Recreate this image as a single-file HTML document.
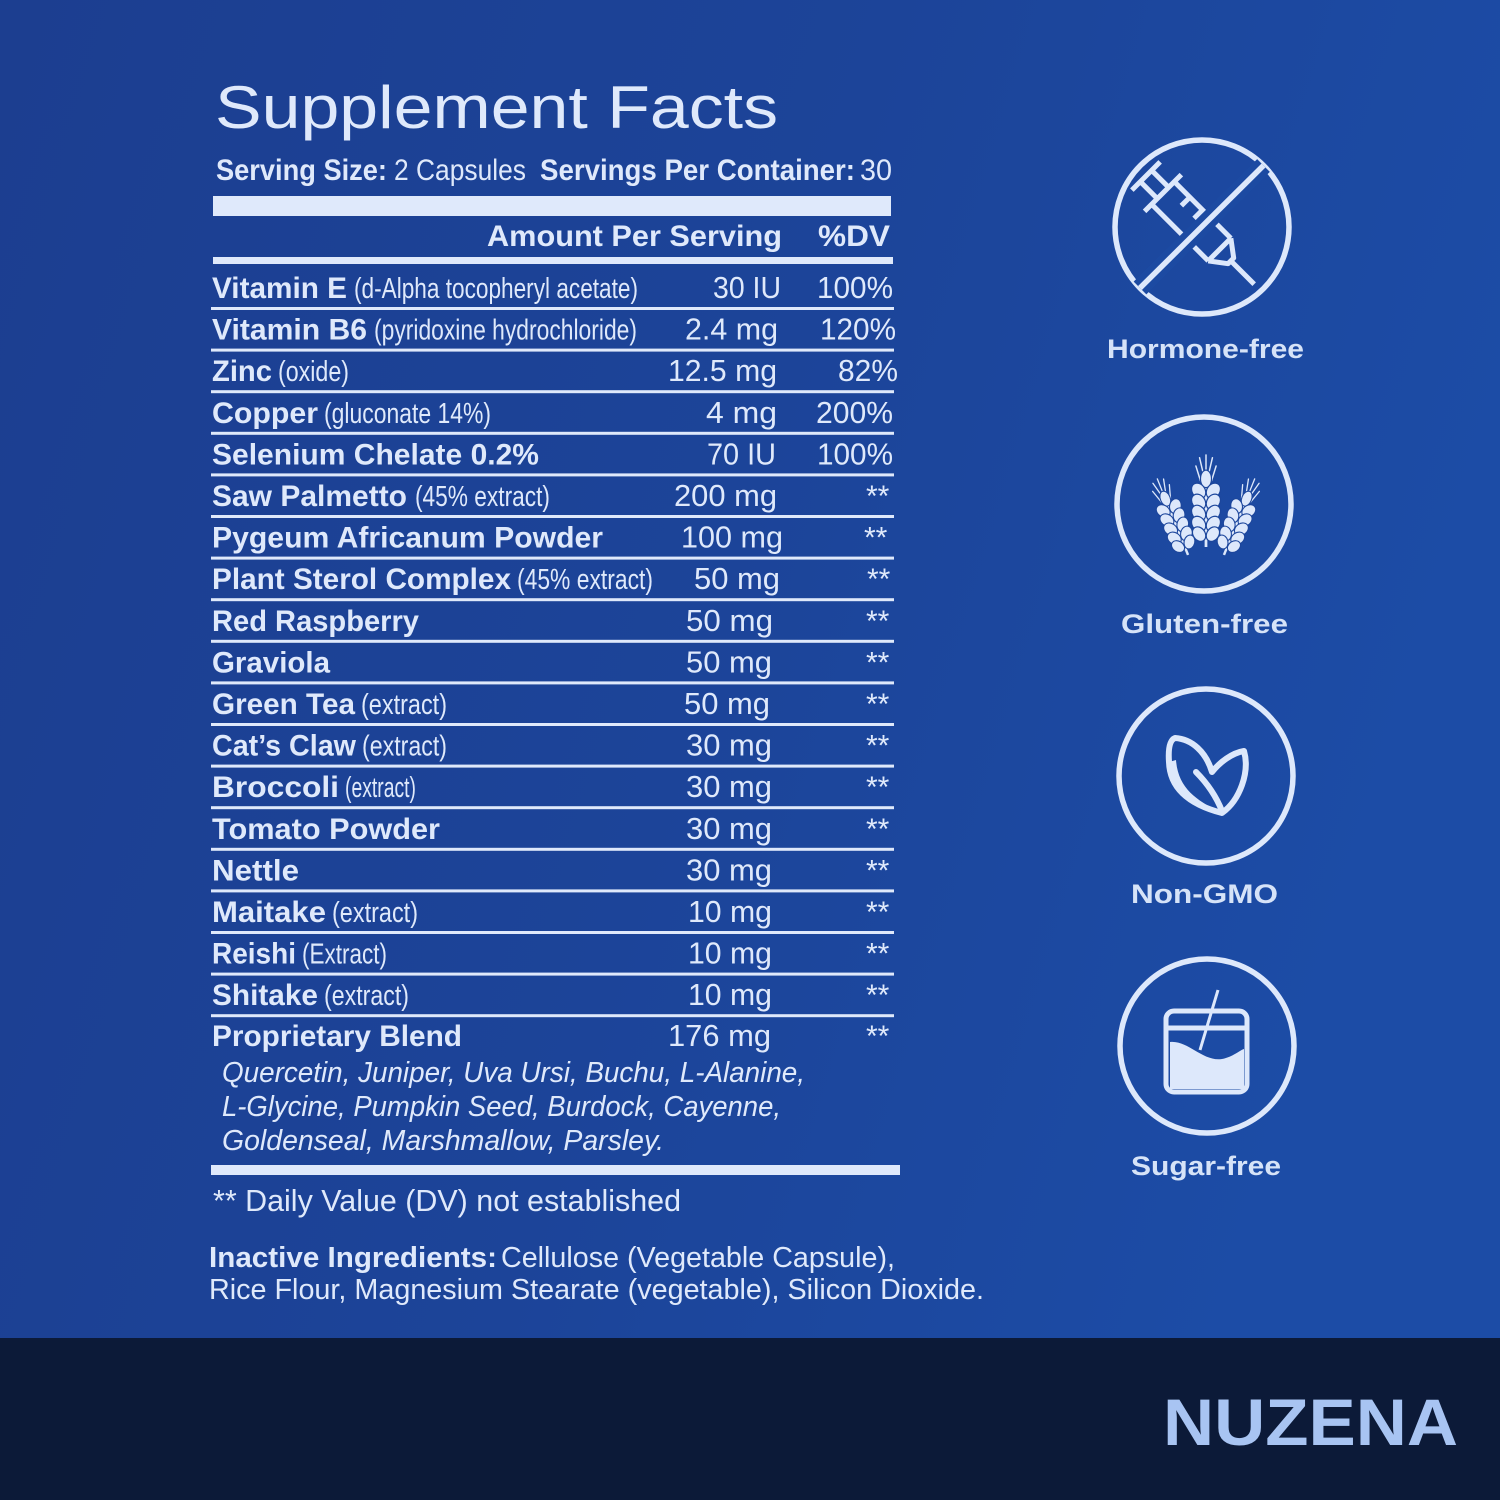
<!DOCTYPE html>
<html>
<head>
<meta charset="utf-8">
<style>
  html,body{margin:0;padding:0;background:#1b4294;}
  svg{display:block;}
</style>
</head>
<body>
<svg width="1500" height="1500" viewBox="0 0 1500 1500" xmlns="http://www.w3.org/2000/svg">
  <defs>
    <linearGradient id="bg" x1="0" y1="0" x2="1" y2="0.3">
      <stop offset="0" stop-color="#1c3e90"/>
      <stop offset="0.55" stop-color="#1c4499"/>
      <stop offset="1" stop-color="#1c4ca6"/>
    </linearGradient>
    <g id="ear">
      <line x1="0" y1="14" x2="0" y2="88" stroke="#dde8fb" stroke-width="3"/>
      <g stroke="#dde8fb" stroke-width="1.6" fill="none" stroke-linecap="round">
        <line x1="0" y1="6" x2="0" y2="-12"/>
        <line x1="-3" y1="8" x2="-7" y2="-9"/>
        <line x1="3" y1="8" x2="7" y2="-9"/>
        <line x1="-6" y1="16" x2="-11" y2="0"/>
        <line x1="6" y1="16" x2="11" y2="0"/>
      </g>
      <g fill="#dde8fb" stroke="#1c469c" stroke-width="1.3">
        <ellipse cx="0" cy="14" rx="6" ry="9.5"/>
        <ellipse cx="-8" cy="27" rx="7" ry="9" transform="rotate(-35 -8 27)"/>
        <ellipse cx="8" cy="27" rx="7" ry="9" transform="rotate(35 8 27)"/>
        <ellipse cx="-8" cy="39" rx="7" ry="9" transform="rotate(-35 -8 39)"/>
        <ellipse cx="8" cy="39" rx="7" ry="9" transform="rotate(35 8 39)"/>
        <ellipse cx="-8" cy="51" rx="7" ry="9" transform="rotate(-35 -8 51)"/>
        <ellipse cx="8" cy="51" rx="7" ry="9" transform="rotate(35 8 51)"/>
        <ellipse cx="-8" cy="63" rx="7" ry="9" transform="rotate(-35 -8 63)"/>
        <ellipse cx="8" cy="63" rx="7" ry="9" transform="rotate(35 8 63)"/>
        <ellipse cx="-7.5" cy="74" rx="6.5" ry="8.5" transform="rotate(-35 -7.5 74)"/>
        <ellipse cx="7.5" cy="74" rx="6.5" ry="8.5" transform="rotate(35 7.5 74)"/>
      </g>
    </g>
  </defs>

  <!-- background -->
  <rect x="0" y="0" width="1500" height="1500" fill="url(#bg)"/>
  <rect x="0" y="1338" width="1500" height="162" fill="#0c1a38"/>

  <g fill="#dfe9fb" font-family="'Liberation Sans', sans-serif">
    <!-- Title -->
    <text x="215" y="128" font-size="60" textLength="563" lengthAdjust="spacingAndGlyphs">Supplement Facts</text>

    <!-- serving line -->
    <text x="216" y="180" font-size="30" font-weight="bold" textLength="171" lengthAdjust="spacingAndGlyphs">Serving Size:</text>
    <text x="394" y="180" font-size="30" textLength="132" lengthAdjust="spacingAndGlyphs">2 Capsules</text>
    <text x="540" y="180" font-size="30" font-weight="bold" textLength="315" lengthAdjust="spacingAndGlyphs">Servings Per Container:</text>
    <text x="860" y="180" font-size="30" textLength="32" lengthAdjust="spacingAndGlyphs">30</text>

    <!-- bars -->
    <rect x="213" y="196" width="678" height="20"/>
    <text x="487" y="246" font-size="30" font-weight="bold" textLength="295" lengthAdjust="spacingAndGlyphs">Amount Per Serving</text>
    <text x="818" y="246" font-size="30" font-weight="bold" textLength="72" lengthAdjust="spacingAndGlyphs">%DV</text>
    <rect x="213" y="257" width="680" height="7"/>

    <!-- row separator lines -->
    <g>
      <rect x="211" y="307" width="683" height="3"/>
      <rect x="211" y="348.6" width="683" height="3"/>
      <rect x="211" y="390.2" width="683" height="3"/>
      <rect x="211" y="431.8" width="683" height="3"/>
      <rect x="211" y="473.4" width="683" height="3"/>
      <rect x="211" y="515" width="683" height="3"/>
      <rect x="211" y="556.6" width="683" height="3"/>
      <rect x="211" y="598.2" width="683" height="3"/>
      <rect x="211" y="639.8" width="683" height="3"/>
      <rect x="211" y="681.4" width="683" height="3"/>
      <rect x="211" y="723" width="683" height="3"/>
      <rect x="211" y="764.6" width="683" height="3"/>
      <rect x="211" y="806.2" width="683" height="3"/>
      <rect x="211" y="847.8" width="683" height="3"/>
      <rect x="211" y="889.4" width="683" height="3"/>
      <rect x="211" y="931" width="683" height="3"/>
      <rect x="211" y="972.6" width="683" height="3"/>
      <rect x="211" y="1014.2" width="683" height="3"/>
    </g>

    <!-- rows: names -->
    <g font-size="30" font-weight="bold">
      <text x="212" y="298" textLength="135" lengthAdjust="spacingAndGlyphs">Vitamin E</text>
      <text x="212" y="339.6" textLength="155" lengthAdjust="spacingAndGlyphs">Vitamin B6</text>
      <text x="212" y="381.2" textLength="60" lengthAdjust="spacingAndGlyphs">Zinc</text>
      <text x="212" y="422.8" textLength="106" lengthAdjust="spacingAndGlyphs">Copper</text>
      <text x="212" y="464.4" textLength="327" lengthAdjust="spacingAndGlyphs">Selenium Chelate 0.2%</text>
      <text x="212" y="506" textLength="195" lengthAdjust="spacingAndGlyphs">Saw Palmetto</text>
      <text x="212" y="547.6" textLength="391" lengthAdjust="spacingAndGlyphs">Pygeum Africanum Powder</text>
      <text x="212" y="589.2" textLength="299" lengthAdjust="spacingAndGlyphs">Plant Sterol Complex</text>
      <text x="212" y="630.8" textLength="207" lengthAdjust="spacingAndGlyphs">Red Raspberry</text>
      <text x="212" y="672.4" textLength="118" lengthAdjust="spacingAndGlyphs">Graviola</text>
      <text x="212" y="714" textLength="143" lengthAdjust="spacingAndGlyphs">Green Tea</text>
      <text x="212" y="755.6" textLength="144" lengthAdjust="spacingAndGlyphs">Cat’s Claw</text>
      <text x="212" y="797.2" textLength="127" lengthAdjust="spacingAndGlyphs">Broccoli</text>
      <text x="212" y="838.8" textLength="228" lengthAdjust="spacingAndGlyphs">Tomato Powder</text>
      <text x="212" y="880.4" textLength="87" lengthAdjust="spacingAndGlyphs">Nettle</text>
      <text x="212" y="922" textLength="114" lengthAdjust="spacingAndGlyphs">Maitake</text>
      <text x="212" y="963.6" textLength="84" lengthAdjust="spacingAndGlyphs">Reishi</text>
      <text x="212" y="1005.2" textLength="106" lengthAdjust="spacingAndGlyphs">Shitake</text>
      <text x="212" y="1046" textLength="250" lengthAdjust="spacingAndGlyphs">Proprietary Blend</text>
    </g>

    <!-- parentheticals -->
    <g font-size="29">
      <text x="354" y="298" textLength="284" lengthAdjust="spacingAndGlyphs">(d-Alpha tocopheryl acetate)</text>
      <text x="374" y="339.6" textLength="263" lengthAdjust="spacingAndGlyphs">(pyridoxine hydrochloride)</text>
      <text x="278" y="381.2" textLength="71" lengthAdjust="spacingAndGlyphs">(oxide)</text>
      <text x="324" y="422.8" textLength="167" lengthAdjust="spacingAndGlyphs">(gluconate 14%)</text>
      <text x="415" y="506" textLength="135" lengthAdjust="spacingAndGlyphs">(45% extract)</text>
      <text x="517" y="589.2" textLength="136" lengthAdjust="spacingAndGlyphs">(45% extract)</text>
      <text x="361" y="714" textLength="86" lengthAdjust="spacingAndGlyphs">(extract)</text>
      <text x="362" y="755.6" textLength="85" lengthAdjust="spacingAndGlyphs">(extract)</text>
      <text x="345" y="797.2" textLength="71" lengthAdjust="spacingAndGlyphs">(extract)</text>
      <text x="332" y="922" textLength="86" lengthAdjust="spacingAndGlyphs">(extract)</text>
      <text x="302" y="963.6" textLength="85" lengthAdjust="spacingAndGlyphs">(Extract)</text>
      <text x="324" y="1005.2" textLength="85" lengthAdjust="spacingAndGlyphs">(extract)</text>
    </g>

    <!-- amounts -->
    <g font-size="31">
      <text x="713" y="298" textLength="68" lengthAdjust="spacingAndGlyphs">30 IU</text>
      <text x="685" y="339.6" textLength="93" lengthAdjust="spacingAndGlyphs">2.4 mg</text>
      <text x="668" y="381.2" textLength="109" lengthAdjust="spacingAndGlyphs">12.5 mg</text>
      <text x="706" y="422.8" textLength="71" lengthAdjust="spacingAndGlyphs">4 mg</text>
      <text x="707" y="464.4" textLength="69" lengthAdjust="spacingAndGlyphs">70 IU</text>
      <text x="674" y="506" textLength="103" lengthAdjust="spacingAndGlyphs">200 mg</text>
      <text x="681" y="547.6" textLength="102" lengthAdjust="spacingAndGlyphs">100 mg</text>
      <text x="694" y="589.2" textLength="86" lengthAdjust="spacingAndGlyphs">50 mg</text>
      <text x="686" y="630.8" textLength="87" lengthAdjust="spacingAndGlyphs">50 mg</text>
      <text x="686" y="672.4" textLength="86" lengthAdjust="spacingAndGlyphs">50 mg</text>
      <text x="684" y="714" textLength="86" lengthAdjust="spacingAndGlyphs">50 mg</text>
      <text x="686" y="755.6" textLength="86" lengthAdjust="spacingAndGlyphs">30 mg</text>
      <text x="686" y="797.2" textLength="86" lengthAdjust="spacingAndGlyphs">30 mg</text>
      <text x="686" y="838.8" textLength="86" lengthAdjust="spacingAndGlyphs">30 mg</text>
      <text x="686" y="880.4" textLength="86" lengthAdjust="spacingAndGlyphs">30 mg</text>
      <text x="688" y="922" textLength="84" lengthAdjust="spacingAndGlyphs">10 mg</text>
      <text x="688" y="963.6" textLength="84" lengthAdjust="spacingAndGlyphs">10 mg</text>
      <text x="688" y="1005.2" textLength="84" lengthAdjust="spacingAndGlyphs">10 mg</text>
      <text x="668" y="1046" textLength="103" lengthAdjust="spacingAndGlyphs">176 mg</text>
    </g>

    <!-- %DV -->
    <g font-size="31">
      <text x="817" y="298" textLength="76" lengthAdjust="spacingAndGlyphs">100%</text>
      <text x="820" y="339.6" textLength="76" lengthAdjust="spacingAndGlyphs">120%</text>
      <text x="838" y="381.2" textLength="60" lengthAdjust="spacingAndGlyphs">82%</text>
      <text x="816" y="422.8" textLength="77" lengthAdjust="spacingAndGlyphs">200%</text>
      <text x="817" y="464.4" textLength="76" lengthAdjust="spacingAndGlyphs">100%</text>
    </g>
    <g font-size="30">
      <text x="866" y="506">**</text>
      <text x="864" y="547.6">**</text>
      <text x="867" y="589.2">**</text>
      <text x="866" y="630.8">**</text>
      <text x="866" y="672.4">**</text>
      <text x="866" y="714">**</text>
      <text x="866" y="755.6">**</text>
      <text x="866" y="797.2">**</text>
      <text x="866" y="838.8">**</text>
      <text x="866" y="880.4">**</text>
      <text x="866" y="922">**</text>
      <text x="866" y="963.6">**</text>
      <text x="866" y="1005.2">**</text>
      <text x="866" y="1046">**</text>
    </g>

    <!-- blend ingredients -->
    <g font-size="29" font-style="italic">
      <text x="222" y="1082" textLength="583" lengthAdjust="spacingAndGlyphs">Quercetin, Juniper, Uva Ursi, Buchu, L-Alanine,</text>
      <text x="222" y="1116" textLength="559" lengthAdjust="spacingAndGlyphs">L-Glycine, Pumpkin Seed, Burdock, Cayenne,</text>
      <text x="222" y="1150" textLength="442" lengthAdjust="spacingAndGlyphs">Goldenseal, Marshmallow, Parsley.</text>
    </g>

    <rect x="211" y="1165" width="689" height="10"/>

    <text x="213" y="1211" font-size="31" textLength="468" lengthAdjust="spacingAndGlyphs">** Daily Value (DV) not established</text>

    <text x="209" y="1267" font-size="29" font-weight="bold" textLength="288" lengthAdjust="spacingAndGlyphs">Inactive Ingredients:</text>
    <text x="501" y="1267" font-size="29" textLength="394" lengthAdjust="spacingAndGlyphs">Cellulose (Vegetable Capsule),</text>
    <text x="209" y="1299" font-size="29" textLength="775" lengthAdjust="spacingAndGlyphs">Rice Flour, Magnesium Stearate (vegetable), Silicon Dioxide.</text>
  </g>

  <!-- ICONS -->
  <g fill="none" stroke="#dde8fb" stroke-width="5.5">
    <circle cx="1202" cy="227" r="87"/>
    <circle cx="1204" cy="504" r="87"/>
    <circle cx="1206" cy="776" r="87"/>
    <circle cx="1207" cy="1046" r="87"/>
  </g>

  <!-- syringe -->
  <g transform="translate(1146,176) rotate(45)" fill="none" stroke="#dde8fb" stroke-width="5" stroke-linejoin="round">
    <path d="M0,-20 L0,20"/>
    <path d="M0,-8 L24,-8 M0,8 L24,8"/>
    <path d="M24,-26 L24,26"/>
    <path d="M24,-16 L104,-16 M24,16 L104,16 M104,-16 L104,16"/>
    <path d="M46,-16 L46,-4 M64,-16 L64,-4"/>
    <path d="M104,-16 L120,-4 L120,4 L104,16"/>
    <path d="M120,0 L153,0"/>
  </g>
  <line x1="1263.5" y1="165.5" x2="1140" y2="288" stroke="#1c4aa2" stroke-width="18"/>
  <line x1="1263.5" y1="165.5" x2="1140" y2="288" stroke="#dde8fb" stroke-width="5.5"/>

  <!-- wheat -->
  <use href="#ear" transform="translate(1206,466) scale(0.92)"/>
  <use href="#ear" transform="translate(1161,488) rotate(-22) scale(0.82)"/>
  <use href="#ear" transform="translate(1251,488) rotate(22) scale(0.82)"/>

  <!-- leaf (non-GMO) -->
  <g fill="none" stroke="#dde8fb" stroke-width="6" stroke-linejoin="round" stroke-linecap="round">
    <path d="M1222,813 C1195,806 1170,792 1169,762 C1168,748 1170,740 1175,738 C1192,739 1206,752 1212,772 C1220,762 1232,753 1244,751 C1250,772 1240,800 1222,813 Z"/>
    <path d="M1222,811 C1216,796 1208,784 1196,772"/>
  </g>
  <path d="M1169,762 C1170,790 1195,806 1220,812 C1196,800 1178,788 1176,760 Z" fill="#dde8fb"/>

  <!-- sugar container -->
  <g fill="none" stroke="#dde8fb" stroke-width="5" stroke-linejoin="round">
    <rect x="1166" y="1011" width="81" height="81" rx="8"/>
    <line x1="1166" y1="1028" x2="1247" y2="1028"/>
  </g>
  <path d="M1170,1042 C1188,1040 1203,1062 1222,1059 C1233,1057 1240,1050 1244,1049 L1244,1089 L1170,1089 Z" fill="#dde8fb"/>
  <line x1="1218" y1="990" x2="1200" y2="1050" stroke="#dde8fb" stroke-width="3"/>

  <!-- icon labels -->
  <g fill="#d6e3f8" font-family="'Liberation Sans', sans-serif" font-weight="bold" font-size="27">
    <text x="1107" y="358" textLength="197" lengthAdjust="spacingAndGlyphs">Hormone-free</text>
    <text x="1121" y="633" textLength="167" lengthAdjust="spacingAndGlyphs">Gluten-free</text>
    <text x="1131" y="903" textLength="147" lengthAdjust="spacingAndGlyphs">Non-GMO</text>
    <text x="1131" y="1175" textLength="150" lengthAdjust="spacingAndGlyphs">Sugar-free</text>
  </g>

  <!-- brand -->
  <text x="1163" y="1445" fill="#a8c4f2" font-family="'Liberation Sans', sans-serif" font-weight="bold" font-size="66" textLength="295" lengthAdjust="spacingAndGlyphs">NUZENA</text>
</svg>
</body>
</html>
